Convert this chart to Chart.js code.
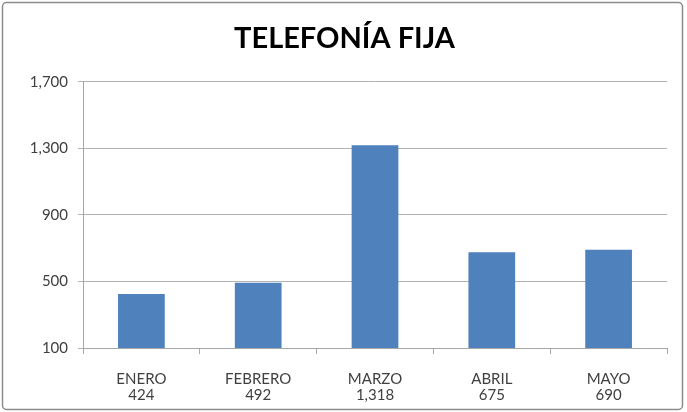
<!DOCTYPE html>
<html>
<head>
<meta charset="utf-8">
<script src="https://cdn.jsdelivr.net/npm/chart.js@4/dist/chart.umd.min.js"></script>
<style>
html,body{margin:0;padding:0;background:#fff;}
#wrap{position:relative;width:687px;height:412px;}
</style>
</head>
<body>
<div id="wrap"><canvas id="c" width="687" height="412"></canvas></div>
<script>
const months = ["ENERO", "FEBRERO", "MARZO", "ABRIL", "MAYO"];
const values = [424, 492, 1318, 675, 690];
const valueLabels = ["424", "492", "1,318", "675", "690"];
const yTicks = [100, 500, 900, 1300, 1700];

const labels = months.map((m, i) => [m, valueLabels[i]]);

const frame = {
  id: 'frame',
  beforeDraw(chart) {
    const ctx = chart.ctx;
    ctx.save();
    ctx.fillStyle = '#ffffff';
    ctx.fillRect(0, 0, chart.width, chart.height);
    ctx.strokeStyle = '#8c8c8c';
    ctx.lineWidth = 1.5;
    ctx.beginPath();
    ctx.roundRect(2.5, 2.5, chart.width - 7, chart.height - 5, 4);
    ctx.stroke();
    ctx.restore();
  }
};

new Chart(document.getElementById('c'), {
  type: 'bar',
  data: {
    labels: labels,
    datasets: [{
      data: values,
      backgroundColor: '#4F81BD',
      borderWidth: 0,
      categoryPercentage: 1,
      barPercentage: 0.4
    }]
  },
  options: {
    responsive: false,
    animation: false,
    layout: { padding: { top: 0, right: 9, left: 11, bottom: 6 } },
    plugins: {
      legend: { display: false },
      tooltip: { enabled: false },
      title: {
        display: true,
        text: 'TELEFONÍA FIJA',
        color: '#000',
        font: { family: 'Lato', size: 29, weight: 'bold', lineHeight: 1.2 },
        padding: { top: 21, bottom: 26 }
      }
    },
    scales: {
      x: {
        offset: true,
        grid: { display: true, drawOnChartArea: false, drawTicks: true, tickLength: 6, color: '#a6a6a6', offset: true },
        border: { display: true, color: '#a6a6a6', width: 1 },
        ticks: { color: '#404040', font: { family: 'Lato', size: 15, lineHeight: 1.07 }, padding: 17, maxRotation: 0 },
        afterFit(s) { s.height = 58; }
      },
      y: {
        min: 100,
        max: 1700,
        afterBuildTicks(s) { s.ticks = yTicks.map(v => ({ value: v })); },
        grid: { color: '#b3b3b3', lineWidth: 1, tickLength: 5, drawTicks: true },
        border: { display: true, color: '#a6a6a6', width: 1 },
        ticks: { color: '#404040', font: { family: 'Lato', size: 15 }, padding: 10,
          callback: v => v.toLocaleString('en-US') },
        afterFit(s) { s.width = 72; }
      },
      ySpacer: {
        position: 'right',
        display: true,
        grid: { display: false },
        border: { display: false },
        ticks: { display: false },
        afterFit(s) { s.width = 11; }
      }
    }
  },
  plugins: [frame]
});
</script>
</body>
</html>
